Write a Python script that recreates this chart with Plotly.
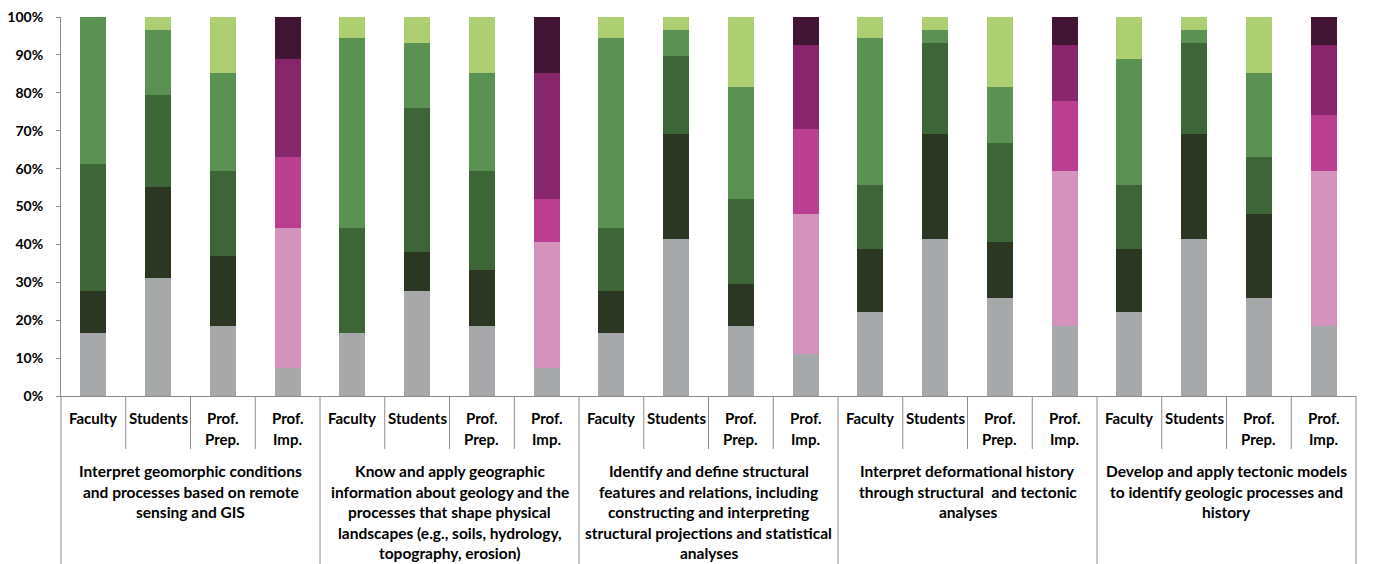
import plotly.graph_objects as go

# Competency areas (outer category level), each wrapped over several lines
groups = [
    ["Interpret geomorphic conditions", "and processes based on remote", "sensing and GIS"],
    ["Know and apply geographic", "information about geology and the",
     "processes that shape physical", "landscapes (e.g., soils, hydrology,",
     "topography, erosion)"],
    ["Identify and define structural", "features and relations, including",
     "constructing and interpreting", "structural projections and statistical", "analyses"],
    ["Interpret deformational history", "through structural  and tectonic", "analyses"],
    ["Develop and apply tectonic models", "to identify geologic processes and", "history"],
]

# Respondent groups (inner category level)
roles = [["Faculty"], ["Students"], ["Prof.", "Prep."], ["Prof.", "Imp."]]

# Percent of responses at each rating level, lowest level first,
# ordered group by group: Faculty, Students, Prof. Prep., Prof. Imp.
level1 = [16.7, 31.0, 18.5, 7.4, 16.7, 27.6, 18.5, 7.4, 16.7, 41.4, 18.5, 11.1,
          22.2, 41.4, 25.9, 18.5, 22.2, 41.4, 25.9, 18.5]
level2 = [11.1, 24.1, 18.5, 37.0, 0.0, 10.3, 14.8, 33.3, 11.1, 27.6, 11.1, 37.0,
          16.7, 27.6, 14.8, 40.7, 16.7, 27.6, 22.2, 40.7]
level3 = [33.3, 24.1, 22.2, 18.5, 27.8, 37.9, 25.9, 11.1, 16.7, 20.7, 22.2, 22.2,
          16.7, 24.1, 25.9, 18.5, 16.7, 24.1, 14.8, 14.8]
level4 = [38.9, 17.2, 25.9, 25.9, 50.0, 17.2, 25.9, 33.3, 50.0, 6.9, 29.6, 22.2,
          38.9, 3.4, 14.8, 14.8, 33.3, 3.4, 22.2, 18.5]
level5 = [0.0, 3.4, 14.8, 11.1, 5.6, 6.9, 14.8, 14.8, 5.6, 3.4, 18.5, 7.4,
          5.6, 3.4, 18.5, 7.4, 11.1, 3.4, 14.8, 7.4]

levels = [level1, level2, level3, level4, level5]

# y-axis ticks
y_ticks = list(range(0, 101, 10))
y_tick_labels = [f"{v}%" for v in y_ticks]

# Green ramp for rating-of-preparation bars, purple ramp for importance bars
green_ramp = ["#A7A8AA", "#2B3722", "#3E6537", "#5B9253", "#AECE72"]
purple_ramp = ["#A7A8AA", "#D493BC", "#BB3F90", "#88266C", "#431535"]

n_roles = len(roles)
n_cats = len(groups) * n_roles
xs = list(range(n_cats))

FONT = "Lato"
AXIS_GREY = "#8C8C8C"

fig = go.Figure()
for k, vals in enumerate(levels):
    colors = [purple_ramp[k] if (i % n_roles) == n_roles - 1 else green_ramp[k]
              for i in xs]
    fig.add_trace(go.Bar(
        x=xs, y=vals, width=0.4, name=f"Level {k + 1}",
        marker=dict(color=colors, line=dict(width=0)),
        showlegend=False,
    ))

# plot-area geometry (pixels)
W, H = 1397, 564
ML, MR, MT, MB = 61, 41, 17, 168
plot_h = H - MT - MB


def py(px_from_axis):
    """Paper y for a distance (in px) below the category axis."""
    return -px_from_axis / plot_h


annotations = []
shapes = []

# inner level labels
for i in xs:
    lines = roles[i % n_roles]
    for j, line in enumerate(lines):
        annotations.append(dict(
            x=i, xref="x", y=py(22 + 20.5 * j), yref="paper",
            text=line, showarrow=False, xanchor="center", yanchor="middle",
            font=dict(family=FONT, size=15, color="black", weight="bold"),
        ))

# outer level labels
for g, lines in enumerate(groups):
    xc = g * n_roles + (n_roles - 1) / 2
    for j, line in enumerate(lines):
        annotations.append(dict(
            x=xc, xref="x", y=py(75 + 20.6 * j), yref="paper",
            text=line, showarrow=False, xanchor="center", yanchor="middle",
            font=dict(family=FONT, size=15.5, color="black", weight="bold"),
        ))

# category dividers below the axis
for b in range(n_cats + 1):
    xp = b / n_cats
    depth = MB if b % n_roles == 0 else 53
    shapes.append(dict(
        type="line", xref="paper", yref="paper",
        x0=xp, x1=xp, y0=0, y1=py(depth),
        line=dict(color=AXIS_GREY, width=1),
    ))

fig.update_layout(
    width=W, height=H,
    margin=dict(l=ML, r=MR, t=MT, b=MB, pad=0, autoexpand=False),
    barmode="stack", barnorm="percent",
    plot_bgcolor="white", paper_bgcolor="white",
    font=dict(family=FONT, color="black"),
    annotations=annotations, shapes=shapes,
    xaxis=dict(
        range=[-0.5, n_cats - 0.5], showticklabels=False, ticks="",
        showgrid=False, zeroline=False, showline=True, automargin=False,
        linecolor=AXIS_GREY, linewidth=1, fixedrange=True,
    ),
    yaxis=dict(
        range=[0, 100], tickmode="array", tickvals=y_ticks, ticktext=y_tick_labels,
        ticks="outside", ticklen=4, tickcolor=AXIS_GREY,
        showgrid=False, zeroline=False, showline=True, automargin=False,
        linecolor=AXIS_GREY, linewidth=1,
        tickfont=dict(family=FONT, size=14, color="black", weight="bold"),
        ticklabelstandoff=10, fixedrange=True,
    ),
)

fig.write_html("out.html")
